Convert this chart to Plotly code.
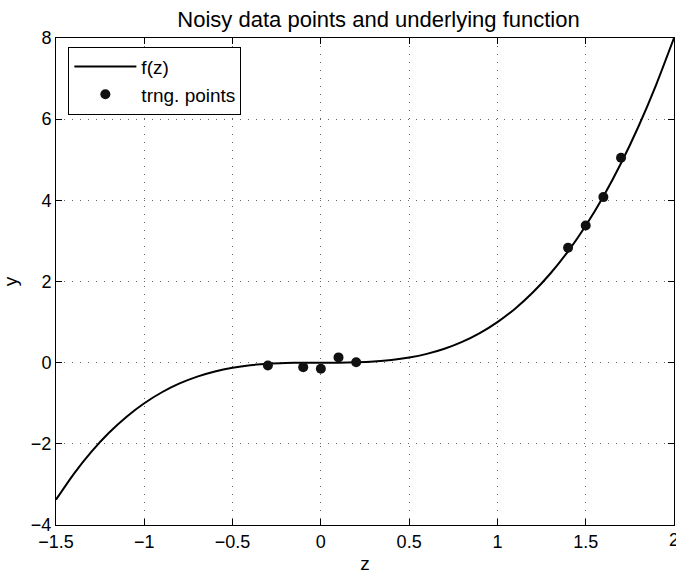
import plotly.graph_objects as go

# Underlying function f(z), sampled every 0.1
curve_z = [-1.5, -1.4, -1.3, -1.2, -1.1, -1.0, -0.9, -0.8, -0.7, -0.6, -0.5, -0.4,
           -0.3, -0.2, -0.1, 0.0, 0.1, 0.2, 0.3, 0.4, 0.5, 0.6, 0.7, 0.8, 0.9, 1.0,
           1.1, 1.2, 1.3, 1.4, 1.5, 1.6, 1.7, 1.8, 1.9, 2.0]
curve_y = [-3.375, -2.744, -2.197, -1.728, -1.331, -1.0, -0.729, -0.512, -0.343,
           -0.216, -0.125, -0.064, -0.027, -0.008, -0.001, 0.0, 0.001, 0.008, 0.027,
           0.064, 0.125, 0.216, 0.343, 0.512, 0.729, 1.0, 1.331, 1.728, 2.197, 2.744,
           3.375, 4.096, 4.913, 5.832, 6.859, 8.0]

# Noisy training points
pts_z = [-0.3, -0.1, 0.0, 0.1, 0.2, 1.4, 1.5, 1.6, 1.7]
pts_y = [-0.07, -0.11, -0.15, 0.13, 0.01, 2.83, 3.38, 4.08, 5.05]

x_ticks = [-1.5, -1, -0.5, 0, 0.5, 1, 1.5, 2]
y_ticks = [-4, -2, 0, 2, 4, 6, 8]

font_family = "Liberation Sans, Arial, sans-serif"


def fmt(v):
    return ("−" + str(abs(v))) if v < 0 else str(v)


fig = go.Figure()
fig.add_trace(go.Scatter(
    x=curve_z, y=curve_y, mode="lines", name="f(z)",
    line=dict(color="black", width=2, shape="spline", smoothing=0.6),
))
fig.add_trace(go.Scatter(
    x=pts_z, y=pts_y, mode="markers", name="trng. points",
    marker=dict(color="#111111", size=10),
))

axis_common = dict(
    showline=True, linecolor="black", linewidth=1, mirror="ticks",
    ticks="inside", ticklen=6, tickcolor="black",
    showgrid=True, gridcolor="#666666", griddash="1px,7px", gridwidth=1,
    zeroline=False, tickfont=dict(size=18, color="black", family=font_family),
)

# last x tick label sits at the page edge, drawn as an annotation so it is kept
fig.update_xaxes(range=[-1.5, 2], tickvals=x_ticks,
                 ticktext=[fmt(v) if v != x_ticks[-1] else "" for v in x_ticks],
                 title=dict(text="z", font=dict(size=19, color="black", family=font_family),
                            standoff=6),
                 **axis_common)
fig.update_yaxes(range=[-4, 8], tickvals=y_ticks,
                 ticktext=[fmt(v) for v in y_ticks],
                 title=dict(text="y", font=dict(size=19, color="black", family=font_family),
                            standoff=8),
                 **axis_common)

fig.add_annotation(x=x_ticks[-1], xref="x", y=0, yref="paper", yanchor="top",
                   yshift=-3, text=fmt(x_ticks[-1]), showarrow=False,
                   font=dict(size=18, color="black", family=font_family))

fig.update_layout(
    width=676, height=574,
    margin=dict(l=56, r=2, t=38, b=49),
    plot_bgcolor="white", paper_bgcolor="white",
    title=dict(text="Noisy data points and underlying function",
               x=0.56, xanchor="center", y=0.967, yanchor="middle",
               font=dict(size=22, color="black", family=font_family)),
    legend=dict(x=0.02, y=0.982, xanchor="left", yanchor="top",
                bordercolor="black", borderwidth=1, bgcolor="white",
                font=dict(size=19, color="black", family=font_family),
                tracegroupgap=0, itemwidth=62),
    showlegend=True,
)

fig.write_html("out.html")
